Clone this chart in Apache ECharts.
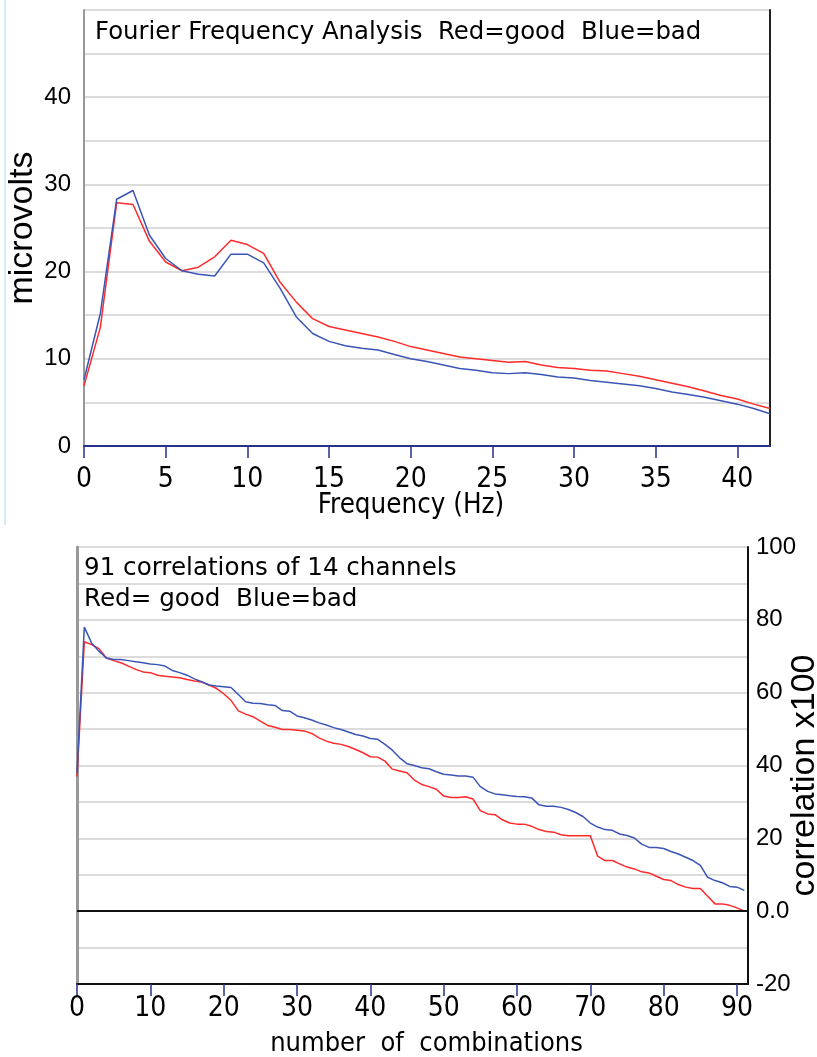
<!DOCTYPE html>
<html>
<head>
<meta charset="utf-8">
<script src="https://cdn.jsdelivr.net/npm/echarts@6/dist/echarts.min.js"></script>
<style>
  html, body { margin: 0; padding: 0; background: #fff; }
  #chart { width: 817px; height: 1057px; }
</style>
</head>
<body>
<div id="chart"></div>
<script>
// 上のグラフ：周波数 (Hz) ごとの振幅
const freqHz = [0, 1, 2, 3, 4, 5, 6, 7, 8, 9, 10, 11, 12, 13, 14, 15, 16, 17, 18, 19, 20,
  21, 22, 23, 24, 25, 26, 27, 28, 29, 30, 31, 32, 33, 34, 35, 36, 37, 38, 39, 40, 41, 42];
const goodMicrovolts = [6.9, 13.6, 27.9, 27.7, 23.5, 21.1, 20.1, 20.5, 21.7, 23.6, 23.1,
  22.1, 18.8, 16.5, 14.6, 13.7, 13.3, 12.9, 12.5, 12.0, 11.4, 11.0, 10.6, 10.2, 10.0,
  9.8, 9.6, 9.7, 9.3, 9.0, 8.9, 8.7, 8.6, 8.3, 8.0, 7.6, 7.2, 6.8, 6.3, 5.8, 5.4, 4.8, 4.3];
const badMicrovolts = [7.6, 15.2, 28.3, 29.3, 24.2, 21.5, 20.1, 19.7, 19.5, 22.0, 22.0,
  21.0, 18.1, 14.8, 12.9, 12.0, 11.5, 11.2, 11.0, 10.5, 10.0, 9.7, 9.3, 8.9, 8.7,
  8.4, 8.3, 8.4, 8.2, 7.9, 7.8, 7.5, 7.3, 7.1, 6.9, 6.6, 6.2, 5.9, 5.6, 5.2, 4.8, 4.3, 3.7];
const freqTicks = [0, 5, 10, 15, 20, 25, 30, 35, 40];
const microvoltTicks = [0, 10, 20, 30, 40];

// 下のグラフ：91通りの相関 (x100)
const goodCorrelation = [37, 74, 73.2, 72.1, 69.5, 68.8, 68.2, 67.3, 66.4, 65.7, 65.5,
  64.8, 64.5, 64.3, 64.1, 63.6, 63.2, 62.9, 62.1, 61.2, 59.7,
  57.9, 55.0, 54.1, 53.4, 52.2, 51.0, 50.5, 49.9, 49.9, 49.7,
  49.5, 48.8, 47.6, 46.7, 46.1, 45.8, 45.2, 44.4, 43.5, 42.4,
  42.3, 41.2, 39.0, 38.5, 38.0, 36.0, 34.8, 34.2, 33.5, 31.6,
  31.2, 31.2, 31.4, 30.8, 27.6, 26.7, 26.5, 25.1, 24.2, 23.9,
  23.9, 23.3, 22.4, 21.9, 21.7, 21.0, 20.7, 20.7, 20.7, 20.7,
  15.1, 13.9, 13.9, 13.0, 12.1, 11.6, 10.8, 10.5, 9.6, 8.7,
  8.4, 7.3, 6.6, 6.2, 6.2, 4.1, 2.0, 2.0, 1.6, 0.9, 0.0];
const badCorrelation = [38, 78, 73.6, 71.4, 69.5, 69.1, 69.1, 68.8, 68.5, 68.2, 67.9,
  67.7, 67.3, 66.1, 65.5, 64.8, 63.8, 63.0, 62.1, 61.8, 61.6,
  61.4, 59.5, 57.5, 57.1, 57.0, 56.7, 56.5, 55.1, 54.9, 53.6,
  53.1, 52.5, 51.7, 51.1, 50.4, 49.9, 49.2, 48.5, 48.1, 47.4,
  47.2, 45.8, 44.2, 42.1, 40.5, 40.0, 39.4, 39.1, 38.3, 37.6,
  37.4, 37.1, 37.1, 36.8, 34.2, 32.9, 32.2, 32.0, 31.7, 31.5,
  31.4, 31.1, 29.2, 28.8, 28.8, 28.5, 27.9, 27.1, 26.0, 24.2,
  23.1, 22.4, 22.2, 21.2, 20.8, 20.1, 18.4, 17.5, 17.5, 17.2,
  16.4, 15.7, 14.8, 13.9, 12.6, 9.3, 8.4, 7.8, 6.8, 6.6, 5.7];
const comboTicks = [0, 10, 20, 30, 40, 50, 60, 70, 80, 90];
const correlationTicks = [-20, 0, 20, 40, 60, 80, 100];

const RED = '#ff2a2a';
const BLUE = '#3a55b5';
const NAVY = '#27318b';
const GRID_GRAY = '#dcdcdc';
const SANS = 'DejaVu Sans, Verdana, sans-serif';
const ARIAL = 'Liberation Sans, Arial, sans-serif';
const NARROW = 'DejaVu Sans Condensed, Liberation Sans Narrow, Arial Narrow, sans-serif';

const pairs = (xs, ys) => ys.map((y, i) => [xs[i], y]);
const index = ys => ys.map((y, i) => [i, y]);

const chart = echarts.init(document.getElementById('chart'));

chart.setOption({
  backgroundColor: '#fff',
  animation: false,
  title: [
    {
      text: 'Fourier Frequency Analysis  Red=good  Blue=bad',
      left: 95,
      top: 21,
      padding: 0,
      textStyle: { fontFamily: SANS, fontSize: 24.4, fontWeight: 'normal', color: '#000' }
    },
    {
      text: '91 correlations of 14 channels\nRed= good  Blue=bad',
      left: 84,
      top: 553,
      padding: 0,
      textStyle: { fontFamily: SANS, fontSize: 24.6, fontWeight: 'normal', color: '#000', lineHeight: 31 }
    }
  ],
  grid: [
    { left: 84, right: 47, top: 10, height: 436, outerBoundsMode: 'none', show: true, borderColor: '#9a9a9a', borderWidth: 1 },
    { left: 77, right: 69, top: 547, height: 437, outerBoundsMode: 'none', show: true, borderColor: '#9a9a9a', borderWidth: 1 }
  ],
  xAxis: [
    {
      gridIndex: 0,
      type: 'value',
      min: 0,
      max: 42,
      interval: 5,
      axisLine: { onZero: false, lineStyle: { color: NAVY, width: 2 } },
      axisTick: { customValues: freqTicks, length: 12, lineStyle: { color: NAVY, width: 1.5 } },
      axisLabel: { customValues: freqTicks, fontFamily: NARROW, fontSize: 28, color: '#000', margin: 20 },
      splitLine: { show: false },
      name: 'Frequency (Hz)',
      nameLocation: 'middle',
      nameGap: 46,
      nameMoveOverlap: false,
      nameTextStyle: { fontFamily: NARROW, fontSize: 27.5, color: '#000', padding: [0, 32, 0, 0] }
    },
    {
      gridIndex: 1,
      type: 'value',
      min: 0,
      max: 91.5,
      interval: 10,
      axisLine: { onZero: false, lineStyle: { color: '#111', width: 2 } },
      axisTick: { customValues: comboTicks, length: 12, lineStyle: { color: NAVY, width: 1.5 } },
      axisLabel: { customValues: comboTicks, fontFamily: NARROW, fontSize: 28, color: '#000', margin: 11 },
      splitLine: { show: false },
      name: 'number  of  combinations',
      nameLocation: 'middle',
      nameGap: 46,
      nameMoveOverlap: false,
      nameTextStyle: { fontFamily: NARROW, fontSize: 27, color: '#000', padding: [0, 0, 0, 28] }
    }
  ],
  yAxis: [
    {
      gridIndex: 0,
      type: 'value',
      min: 0,
      max: 50,
      interval: 5,
      axisLine: { show: true, onZero: false, lineStyle: { color: '#999', width: 2 } },
      axisTick: { show: false },
      axisLabel: { customValues: microvoltTicks, fontFamily: ARIAL, fontSize: 24, color: '#000', margin: 13 },
      splitLine: { show: true, lineStyle: { color: GRID_GRAY, width: 2 } },
      name: 'microvolts',
      nameLocation: 'middle',
      nameGap: 44,
      nameMoveOverlap: false,
      nameTextStyle: { fontFamily: ARIAL, fontSize: 34, color: '#000' }
    },
    {
      // 上のグラフの右枠
      gridIndex: 0,
      type: 'value',
      position: 'right',
      min: 0,
      max: 50,
      axisLine: { show: true, onZero: false, lineStyle: { color: '#222', width: 2 } },
      axisTick: { show: false },
      axisLabel: { show: false },
      splitLine: { show: false }
    },
    {
      gridIndex: 1,
      type: 'value',
      position: 'right',
      min: -20,
      max: 100,
      interval: 10,
      axisLine: { show: true, onZero: false, lineStyle: { color: '#111', width: 2 } },
      axisTick: { show: false },
      axisLabel: {
        customValues: correlationTicks,
        formatter: v => (v === 0 ? '0.0' : String(v)),
        fontFamily: ARIAL, fontSize: 24, color: '#000', margin: 8
      },
      splitLine: { show: true, lineStyle: { color: GRID_GRAY, width: 2 } },
      name: 'correlation x100',
      nameLocation: 'middle',
      nameGap: 40,
      nameMoveOverlap: false,
      nameTextStyle: { fontFamily: ARIAL, fontSize: 34, color: '#000', padding: [0, 20, 0, 0] }
    },
    {
      // 下のグラフの左枠
      gridIndex: 1,
      type: 'value',
      position: 'left',
      min: -20,
      max: 100,
      axisLine: { show: true, onZero: false, lineStyle: { color: '#999', width: 3 } },
      axisTick: { show: false },
      axisLabel: { show: false },
      splitLine: { show: false }
    }
  ],
  series: [
    {
      name: 'good', type: 'line', xAxisIndex: 0, yAxisIndex: 0,
      data: pairs(freqHz, goodMicrovolts),
      showSymbol: false, lineStyle: { color: RED, width: 1.5 }, itemStyle: { color: RED }
    },
    {
      name: 'bad', type: 'line', xAxisIndex: 0, yAxisIndex: 0,
      data: pairs(freqHz, badMicrovolts),
      showSymbol: false, lineStyle: { color: BLUE, width: 1.5 }, itemStyle: { color: BLUE }
    },
    {
      name: 'good', type: 'line', xAxisIndex: 1, yAxisIndex: 2,
      data: index(goodCorrelation),
      showSymbol: false, lineStyle: { color: RED, width: 1.5 }, itemStyle: { color: RED },
      markLine: {
        silent: true,
        symbol: 'none',
        label: { show: false },
        lineStyle: { color: '#111', width: 2, type: 'solid' },
        data: [{ yAxis: 0 }]
      }
    },
    {
      name: 'bad', type: 'line', xAxisIndex: 1, yAxisIndex: 2,
      data: index(badCorrelation),
      showSymbol: false, lineStyle: { color: BLUE, width: 1.5 }, itemStyle: { color: BLUE }
    }
  ],
  graphic: [
    {
      // ページ左端の薄い青線
      type: 'line',
      shape: { x1: 5, y1: 0, x2: 5, y2: 525 },
      style: { stroke: '#d6e9f8', lineWidth: 2 }
    }
  ]
});
</script>
</body>
</html>
